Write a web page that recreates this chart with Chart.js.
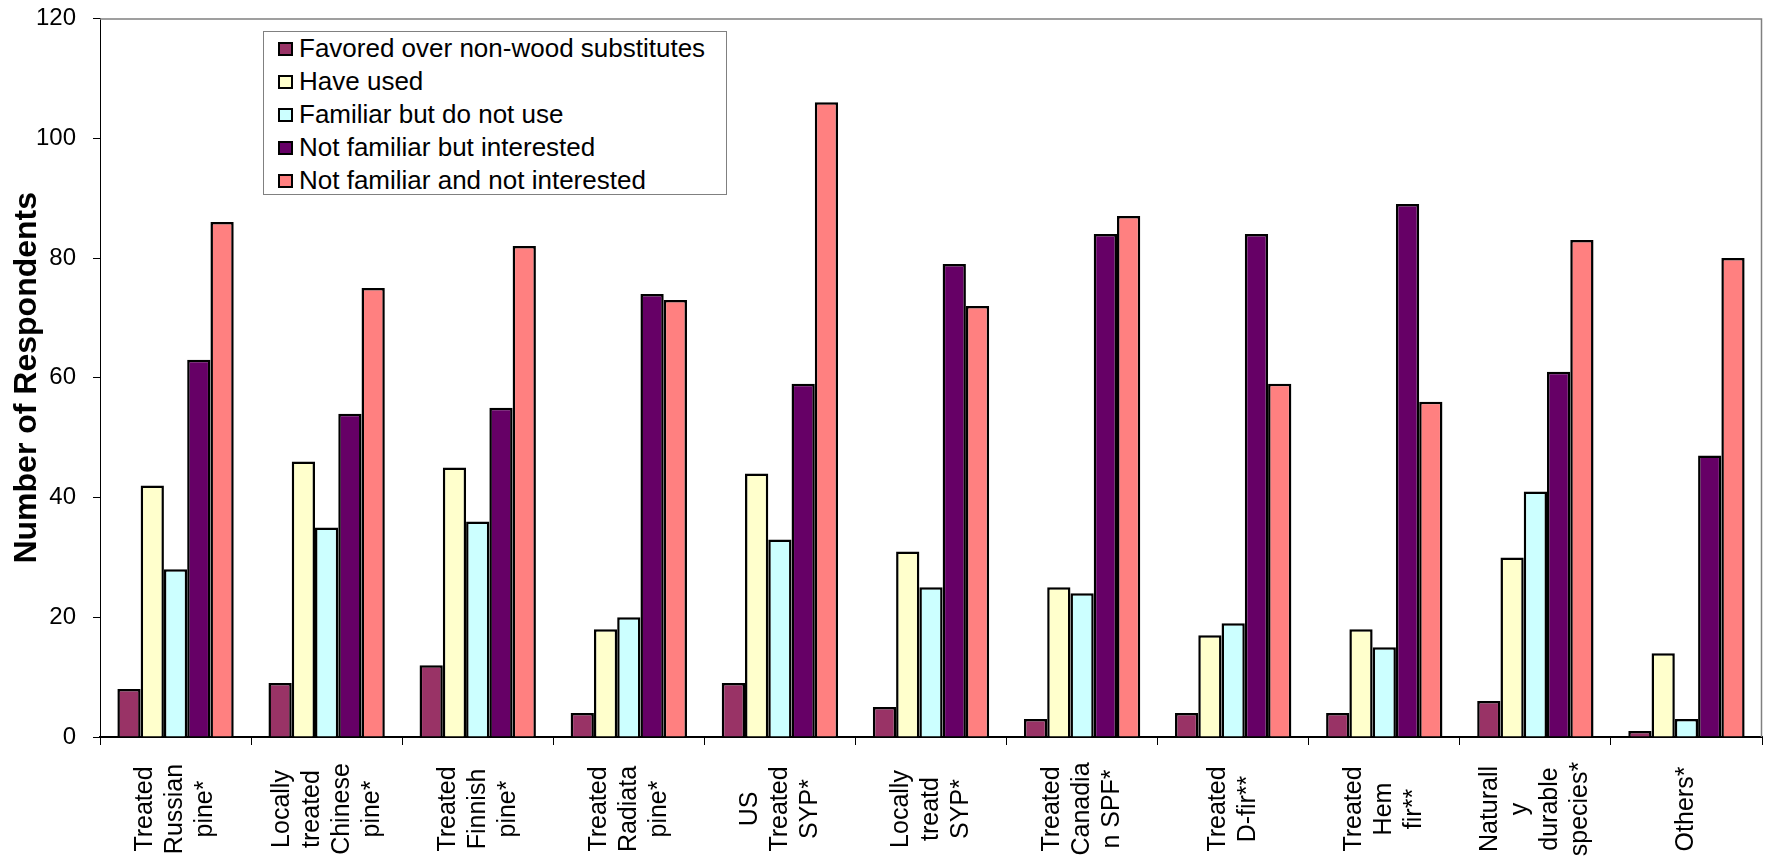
<!DOCTYPE html>
<html>
<head>
<meta charset="utf-8">
<script src="https://cdn.jsdelivr.net/npm/chart.js@4.4.1/dist/chart.umd.min.js"></script>
<style>
  body { margin: 0; background: #fff; }
  #wrap { position: relative; width: 1768px; height: 864px; }
  #legend {
    position: absolute; left: 263px; top: 31px; width: 462px; height: 162px;
    border: 1px solid #808080; background: #fff;
    font-family: "Liberation Sans", Arial, sans-serif; font-size: 26px; color: #000;
  }
  #legend .row { height: 33px; line-height: 33px; display: flex; align-items: center; padding-left: 14px; }
  #legend .sw { width: 15px; height: 14px; border: 2px solid #000; box-sizing: border-box; margin-right: 6px; }
</style>
</head>
<body>
<div id="wrap">
  <canvas id="chart" width="1768" height="864"></canvas>
  <div id="legend"></div>
</div>
<script>
const categories = [
  ['Treated', 'Russian', 'pine*'],
  ['Locally', 'treated', 'Chinese', 'pine*'],
  ['Treated', 'Finnish', 'pine*'],
  ['Treated', 'Radiata', 'pine*'],
  ['US', 'Treated', 'SYP*'],
  ['Locally', 'treatd', 'SYP*'],
  ['Treated', 'Canadia', 'n SPF*'],
  ['Treated', 'D-fir**'],
  ['Treated', 'Hem', 'fir**'],
  ['Naturall', 'y', 'durable', 'species*'],
  ['Others*']
];
const seriesNames = [
  'Favored over non-wood substitutes',
  'Have used',
  'Familiar but do not use',
  'Not familiar but interested',
  'Not familiar and not interested'
];
const favored        = [8, 9, 12, 4, 9, 5, 3, 4, 4, 6, 1];
const haveUsed       = [42, 46, 45, 18, 44, 31, 25, 17, 18, 30, 14];
const familiarNoUse  = [28, 35, 36, 20, 33, 25, 24, 19, 15, 41, 3];
const notFamInterest = [63, 54, 55, 74, 59, 79, 84, 84, 89, 61, 47];
const notFamNotInt   = [86, 75, 82, 73, 106, 72, 87, 59, 56, 83, 80];
const colors = ['#993366', '#FFFFCC', '#CCFFFF', '#660066', '#FF8080'];

const fontFamily = '"Liberation Sans", Arial, sans-serif';
Chart.defaults.font.family = fontFamily;

// frame on top/right and centred, rotated multi-line category labels
const frameAndLabels = {
  id: 'frameAndLabels',
  afterDraw(chart) {
    const { ctx, chartArea: a, scales: { x } } = chart;
    ctx.save();
    ctx.strokeStyle = '#808080';
    ctx.lineWidth = 1.5;
    ctx.beginPath();
    ctx.moveTo(a.left, a.top + 0.5);
    ctx.lineTo(a.right - 0.5, a.top + 0.5);
    ctx.lineTo(a.right - 0.5, a.bottom);
    ctx.stroke();

    ctx.fillStyle = '#000';
    ctx.font = '25px ' + fontFamily;
    ctx.textAlign = 'center';
    ctx.textBaseline = 'middle';
    categories.forEach((lines, i) => {
      ctx.save();
      ctx.translate(x.getPixelForValue(i), a.bottom + 72);
      ctx.rotate(-Math.PI / 2);
      lines.forEach((t, j) => ctx.fillText(t, 0, (j - (lines.length - 1) / 2) * 30));
      ctx.restore();
    });
    ctx.restore();
  }
};

const allData = [favored, haveUsed, familiarNoUse, notFamInterest, notFamNotInt];

new Chart(document.getElementById('chart').getContext('2d'), {
  type: 'bar',
  data: {
    labels: categories.map(c => c.join(' ')),
    datasets: allData.map((d, i) => ({
      label: seriesNames[i],
      data: d,
      backgroundColor: colors[i],
      borderColor: '#000',
      borderWidth: 2.5
    }))
  },
  options: {
    responsive: false,
    animation: false,
    devicePixelRatio: 1,
    layout: { padding: { top: 18.5, right: 6, bottom: 119, left: 0 } },
    plugins: { legend: { display: false }, tooltip: { enabled: false } },
    datasets: { bar: { categoryPercentage: 0.77, barPercentage: 1 } },
    scales: {
      x: {
        grid: { drawOnChartArea: false, tickLength: 8, color: '#000', offset: true },
        border: { color: '#000', width: 2 },
        ticks: { display: false }
      },
      y: {
        min: 0,
        max: 120,
        ticks: { stepSize: 20, color: '#000', font: { size: 24 }, padding: 17 },
        grid: { drawOnChartArea: false, tickLength: 7, color: '#000' },
        border: { color: '#000', width: 1 },
        title: {
          display: true,
          text: 'Number of Respondents',
          color: '#000',
          font: { size: 32, weight: 'bold' },
          padding: { top: 8, bottom: 0 }
        },
        afterFit(scale) {
          scale.width = 100;
          scale.paddingTop = 0;
          scale.paddingBottom = 0;
        }
      }
    }
  },
  plugins: [frameAndLabels]
});

// legend box inside the plot
const legend = document.getElementById('legend');
seriesNames.forEach((name, i) => {
  const row = document.createElement('div');
  row.className = 'row';
  const sw = document.createElement('span');
  sw.className = 'sw';
  sw.style.background = colors[i];
  row.appendChild(sw);
  row.appendChild(document.createTextNode(name));
  legend.appendChild(row);
});
</script>
</body>
</html>
